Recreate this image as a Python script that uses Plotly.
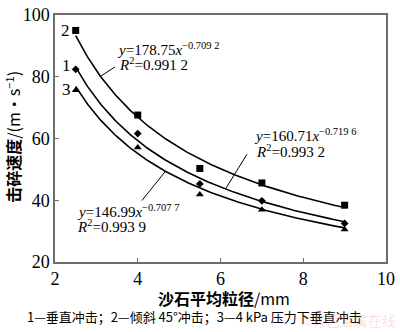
import numpy as np
import plotly.graph_objects as go

# Mean sand particle size (mm)
size_mm = [2.5, 4.0, 5.5, 7.0, 9.0]

# Breaking velocity (m/s) for each impact condition
v_vertical = [82.4, 61.6, 45.3, 39.8, 32.5]      # 1: vertical impact
v_oblique45 = [95.0, 67.6, 50.3, 45.6, 38.4]     # 2: 45° oblique impact
v_pressure4kpa = [75.6, 57.1, 41.9, 36.9, 30.5]  # 3: vertical impact under 4 kPa

# Power-law fits y = a * x^b
fit_vertical = (160.71, -0.7196)
fit_oblique45 = (178.75, -0.7092)
fit_pressure4kpa = (146.99, -0.7077)

x_ticks = [2, 4, 6, 8, 10]
y_ticks = [20, 40, 60, 80, 100]

SERIF = "Liberation Serif, Times New Roman, serif"
CJK = "Noto Sans CJK SC, sans-serif"
AX = "#6e6e6e"

W, H = 400, 332
ML, MR, MT, MB = 55, 9, 5, 70
PW, PH = W - ML - MR, H - MT - MB


def power(fit, x):
    a, b = fit
    return a * np.power(x, b)


xs = np.linspace(size_mm[0], size_mm[-1], 200)

fig = go.Figure()

for fit in (fit_oblique45, fit_vertical, fit_pressure4kpa):
    fig.add_trace(go.Scatter(x=xs, y=power(fit, xs), mode="lines",
                             line=dict(color="black", width=1.6),
                             hoverinfo="skip", showlegend=False))

for vals, sym, sz in ((v_oblique45, "square", 7),
                      (v_vertical, "diamond", 6),
                      (v_pressure4kpa, "triangle-up", 7)):
    fig.add_trace(go.Scatter(x=size_mm, y=vals, mode="markers",
                             marker=dict(symbol=sym, size=sz, color="black"),
                             showlegend=False))

# leader lines from the fit labels to their curves
leaders = [((3.45, 83.2), 3.10, fit_oblique45),
           ((6.64, 54.9), 6.12, fit_vertical),
           ((4.10, 39.9), 4.67, fit_pressure4kpa)]
for (x0, y0), x1, fit in leaders:
    fig.add_trace(go.Scatter(x=[x0, x1], y=[y0, float(power(fit, x1))],
                             mode="lines", line=dict(color="black", width=1),
                             hoverinfo="skip", showlegend=False))

ann = []


def px(xp, yp):
    """Page pixel position -> paper coordinates of the plot area."""
    return (xp - ML) / PW, (H - MB - yp) / PH


def label(xp, yp, text, size=15, xanchor="left", font=SERIF, color="black", angle=0):
    x, y = px(xp, yp)
    ann.append(dict(x=x, y=y, xref="paper", yref="paper", text=text, showarrow=False,
                    xanchor=xanchor, yanchor="middle", textangle=angle,
                    font=dict(family=font, size=size, color=color)))


# fit equations
for (xp, yp), (a_txt, b_txt), r2, dx in (((116, 40), ("178.75", "0.709 2"), "0.991 2", 2),
                                         ((255, 130), ("160.71", "0.719 6"), "0.993 2", 2),
                                         ((75, 209), ("146.99", "0.707 7"), "0.993 9", 0)):
    label(xp, yp, f"<i>y</i>={a_txt}<i>x</i><sup>−{b_txt}</sup>")
    label(xp + dx, yp + 16, f"<i>R</i><sup>2</sup>=" + r2)

# curve numbers
for (xp, yp), t in (((66, 21), "2"), ((67, 58), "1"), ((67, 82), "3")):
    label(xp, yp, t, size=17, xanchor="center")

# axis titles
label(227, 299, "<b>沙石平均粒径</b>/mm", size=16, xanchor="center", font=CJK)
label(12, 132, "<b>击碎速度</b>/(m·s<sup>−1</sup>)", size=16, xanchor="center",
      font=CJK, angle=-90)

# caption and watermark
label(197, 319, "1—垂直冲击；2—倾斜 45°冲击；3—4 kPa 压力下垂直冲击", size=13,
      xanchor="center", font="Noto Sans CJK SC, Liberation Serif, serif")
label(352, 322, "©有色金属在线", size=14, xanchor="center", font=CJK,
      color="rgba(230,150,150,0.3)")

axis_common = dict(showline=True, linecolor=AX, linewidth=1.5, mirror=True,
                   ticks="inside", ticklen=4, tickcolor=AX, tickwidth=1,
                   showgrid=False, zeroline=False, ticklabeloverflow="allow",
                   tickfont=dict(family=SERIF, size=18, color="black"))

fig.update_layout(
    width=W, height=H,
    margin=dict(l=ML, r=MR, t=MT, b=MB),
    plot_bgcolor="white", paper_bgcolor="white",
    xaxis=dict(range=[2, 10], tickvals=x_ticks, **axis_common),
    yaxis=dict(range=[20, 100], tickvals=y_ticks, **axis_common),
    annotations=ann,
)

fig.write_html("out.html")
